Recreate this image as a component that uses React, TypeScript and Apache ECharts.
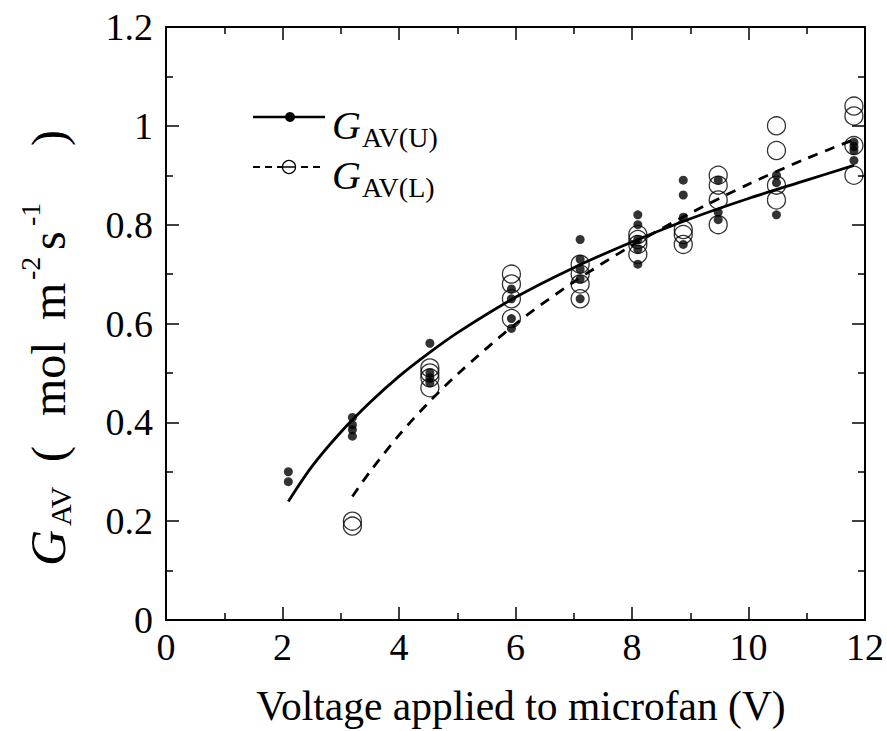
import React, { useEffect, useRef } from "react";
import * as echarts from "echarts";

// Measured voltages (V) for each group of points
const voltages = [2.1, 3.2, 4.53, 5.93, 7.11, 8.1, 8.88, 9.48, 10.48, 11.81];
// G_AV(U) values (filled dots), one list per voltage
const gavU = [
  [0.3, 0.28],
  [0.41, 0.395, 0.385, 0.372],
  [0.56, 0.5, 0.49, 0.48],
  [0.67, 0.65, 0.61, 0.59],
  [0.77, 0.73, 0.71, 0.69, 0.65],
  [0.82, 0.8, 0.77, 0.75, 0.72],
  [0.89, 0.86, 0.815, 0.76],
  [0.89, 0.825, 0.81],
  [0.9, 0.885, 0.82],
  [0.967, 0.958, 0.95, 0.93],
];
// G_AV(L) values (open circles), one list per voltage
const gavL = [
  [],
  [0.2, 0.19],
  [0.51, 0.5, 0.49, 0.47],
  [0.7, 0.68, 0.65, 0.61],
  [0.72, 0.7, 0.68, 0.65],
  [0.78, 0.77, 0.76, 0.74],
  [0.79, 0.78, 0.76],
  [0.9, 0.88, 0.85, 0.8],
  [1.0, 0.95, 0.88, 0.85],
  [1.04, 1.02, 0.96, 0.9],
];
// Fitted curve: solid (U)
const fitUx = [2.1, 2.5, 3, 3.5, 4, 4.5, 5, 6, 7, 8, 9, 10, 11, 11.81];
const fitUy = [0.24, 0.31, 0.38, 0.44, 0.493, 0.539, 0.581, 0.653, 0.713, 0.765, 0.812, 0.853, 0.89, 0.92];
// Fitted curve: dashed (L)
const fitLx = [3.2, 3.5, 4, 4.5, 5, 6, 7, 8, 9, 10, 11, 11.81];
const fitLy = [0.25, 0.3, 0.374, 0.439, 0.497, 0.599, 0.684, 0.758, 0.823, 0.882, 0.934, 0.972];

const xMin = 0, xMax = 12, xStep = 2;
const yMin = 0, yMax = 1.2, yStep = 0.2;

const SERIF = '"Liberation Serif", "DejaVu Serif", serif';

export default function App() {
  const ref = useRef<HTMLDivElement>(null);
  useEffect(() => {
    if (!ref.current) return;
    const chart = echarts.init(ref.current, null, { renderer: "svg" });
    const uData = voltages.flatMap((v, i) => gavU[i].map((g) => [v, g]));
    const lData = voltages.flatMap((v, i) => gavL[i].map((g) => [v, g]));
    const fitU = fitUx.map((x, i) => [x, fitUy[i]]);
    const fitL = fitLx.map((x, i) => [x, fitLy[i]]);

    const axisCommon = {
      type: "value",
      axisLine: { show: true, onZero: false, lineStyle: { color: "#000", width: 2 } },
      axisTick: { show: true, inside: true, length: 13, lineStyle: { color: "#000", width: 1.5 } },
      minorTick: { show: true, splitNumber: 2, length: 7, lineStyle: { color: "#000", width: 1.5 } },
      splitLine: { show: false },
      minorSplitLine: { show: false },
    };
    const labelStyle = { color: "#000", fontFamily: SERIF, fontSize: 38 };

    const txt = (t: string, x: number, y: number, size: number, italic = false) => ({
      type: "text",
      x,
      y,
      style: {
        text: t,
        fill: "#000",
        fontFamily: SERIF,
        fontSize: size,
        fontStyle: italic ? "italic" : "normal",
        align: "left",
        verticalAlign: "middle",
      },
    });

    chart.setOption({
      animation: false,
      backgroundColor: "#fff",
      grid: { left: 166, right: 17, top: 27, bottom: 111, containLabel: false },
      xAxis: [
        { ...axisCommon, min: xMin, max: xMax, interval: xStep, position: "bottom",
          axisLabel: { ...labelStyle, margin: 8 } },
        { ...axisCommon, min: xMin, max: xMax, interval: xStep, position: "top",
          axisLabel: { show: false } },
      ],
      yAxis: [
        { ...axisCommon, min: yMin, max: yMax, interval: yStep, position: "left",
          axisLabel: { ...labelStyle, margin: 13 } },
        { ...axisCommon, min: yMin, max: yMax, interval: yStep, position: "right",
          axisLabel: { show: false } },
      ],
      series: [
        {
          type: "line", data: fitU, smooth: 0.3, showSymbol: false, symbol: "none",
          lineStyle: { color: "#000", width: 2.8 }, z: 2,
        },
        {
          type: "line", data: fitL, smooth: 0.3, showSymbol: false, symbol: "none",
          lineStyle: { color: "#000", width: 2.8, type: [10, 8] }, z: 2,
        },
        {
          type: "scatter", data: lData, symbol: "circle", symbolSize: 18,
          itemStyle: { color: "rgba(0,0,0,0)", borderColor: "#000", borderWidth: 1.3 }, z: 3,
        },
        {
          type: "scatter", data: uData, symbol: "circle", symbolSize: 9,
          itemStyle: { color: "#000" }, z: 4,
        },
      ],
      graphic: [
        // legend row 1
        { type: "line", shape: { x1: 253, y1: 117, x2: 325, y2: 117 }, style: { stroke: "#000", lineWidth: 2.5 } },
        { type: "circle", shape: { cx: 290, cy: 117, r: 5 }, style: { fill: "#000" } },
        txt("G", 332, 125, 40, true),
        txt("AV(U)", 362, 137, 28),
        // legend row 2
        { type: "line", shape: { x1: 253, y1: 167, x2: 325, y2: 167 }, style: { stroke: "#000", lineWidth: 2, lineDash: [7, 5] } },
        { type: "circle", shape: { cx: 289, cy: 167, r: 6.5 }, style: { fill: "#fff", stroke: "#000", lineWidth: 1.3 } },
        { type: "line", shape: { x1: 283, y1: 167, x2: 295, y2: 167 }, style: { stroke: "#000", lineWidth: 1.5 } },
        txt("G", 332, 175, 40, true),
        txt("AV(L)", 362, 187, 28),
        // x-axis title
        {
          type: "text", x: 521, y: 706,
          style: { text: "Voltage applied to microfan (V)", fill: "#000", fontFamily: SERIF, fontSize: 41.5, align: "center", verticalAlign: "middle" },
        },
        // y-axis title (rotated)
        {
          type: "group", x: 48, y: 566, rotation: Math.PI / 2,
          children: [
            txt("G", 0, 0, 50, true),
            txt("AV", 40, 12, 30),
            txt("(", 104, 0, 48),
            txt("mol", 150, 0, 48),
            txt("m", 246, 0, 48),
            txt("-2", 286, -18, 28),
            txt("s", 316, 0, 48),
            txt("-1", 340, -18, 28),
            txt(")", 420, 0, 48),
          ],
        },
      ],
    });
    return () => chart.dispose();
  }, []);
  return (
    <div
      ref={ref}
      style={{ position: "fixed", left: 0, top: 0, width: 887, height: 731, background: "#fff" }}
    />
  );
}
